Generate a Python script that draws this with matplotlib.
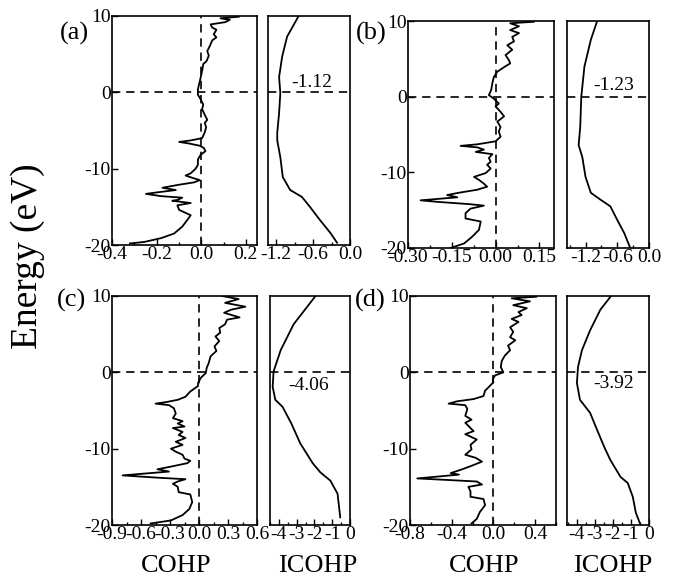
import numpy as np
import matplotlib.pyplot as plt
from matplotlib.ticker import MultipleLocator

plt.rcParams['font.family'] = ['Liberation Serif', 'DejaVu Serif']
plt.rcParams['axes.unicode_minus'] = False

# (a) COHP
e_a = [9.9, 9.7, 9.5, 9.2, 8.9, 8.5, 8.2, 7.6, 7.2, 6.8, 6.1, 5.4, 4.8, 4.1, 3.7, 2.8, 1.5, 0.4,
       -0.3, -0.9, -1.6, -2.2, -2.9, -3.6, -4.0, -4.6, -5.3, -6.0, -6.3, -6.5, -6.7, -7.0, -7.3,
       -7.7, -8.2, -8.8, -9.5, -10.0, -10.6, -10.9, -11.2, -11.5, -11.8, -12.1, -12.5, -12.8,
       -13.1, -13.3, -13.6, -13.8, -14.1, -14.2, -14.5, -14.8, -15.4, -16.1, -16.7, -17.6,
       -18.5, -19.1, -19.6, -19.8]
cohp_a = [0.168, 0.086, 0.128, 0.108, 0.042, 0.049, 0.068, 0.056, 0.068, 0.049, 0.039, 0.027,
          0.034, 0.024, 0.009, 0.004, -0.006, -0.015, -0.015, -0.003, 0.009, 0.004, 0.015,
          0.027, 0.016, 0.022, 0.015, 0.004, -0.047, -0.099, -0.055, -0.006, 0.012, 0.019,
          -0.003, -0.015, -0.015, -0.025, -0.047, -0.07, -0.04, -0.006, -0.033, -0.099, -0.174,
          -0.114, -0.196, -0.248, -0.18, -0.085, -0.107, -0.13, -0.047, -0.107, -0.099, -0.047,
          -0.062, -0.085, -0.122, -0.18, -0.255, -0.32]
# (a) ICOHP
e_ia = [9.9, 7.3, 4.7, 2.0, -0.1, -2.7, -5.3, -6.3, -8.5, -11.1, -12.8, -13.7, -15.0, -16.7,
        -18.4, -19.7]
icohp_a = [-0.84, -1.02, -1.1, -1.15, -1.13, -1.15, -1.18, -1.18, -1.13, -1.09, -0.97, -0.78,
           -0.65, -0.49, -0.32, -0.21]

# (b) COHP
e_b = [9.9, 9.7, 9.3, 8.8, 8.4, 7.9, 7.3, 6.8, 6.2, 5.5, 4.8, 4.4, 3.9, 3.3, 2.6, 1.8, 0.9, 0.2,
       -0.2, -0.9, -1.3, -2.0, -2.6, -3.3, -4.0, -4.6, -5.3, -5.9, -6.3, -6.5, -6.7, -7.0, -7.3,
       -7.6, -8.1, -8.6, -9.0, -9.5, -10.1, -10.6, -11.0, -11.5, -11.9, -12.3, -12.7, -13.0,
       -13.3, -13.7, -13.9, -14.2, -14.4, -14.8, -15.4, -16.1, -16.5, -17.6, -18.5, -19.4, -20.0]
cohp_b = [0.131, 0.05, 0.08, 0.05, 0.08, 0.057, 0.063, 0.04, 0.057, 0.034, 0.046, 0.05, 0.029,
          0.006, -0.006, -0.011, -0.015, -0.023, -0.008, 0.011, 0.0, 0.017, 0.029, 0.006, 0.017,
          0.011, 0.017, 0.0, -0.063, -0.12, -0.063, -0.04, -0.068, -0.011, -0.023, -0.017,
          -0.029, -0.017, -0.034, -0.074, -0.057, -0.04, -0.029, -0.063, -0.126, -0.166, -0.131,
          -0.257, -0.2, -0.091, -0.04, -0.086, -0.103, -0.103, -0.051, -0.057, -0.08, -0.108,
          -0.154]
# (b) ICOHP
e_ib = [10.0, 7.5, 4.0, 0.0, -4.0, -6.4, -8.0, -10.6, -12.7, -13.6, -14.5, -16.3, -18.0, -19.9]
icohp_b = [-0.98, -1.1, -1.22, -1.28, -1.3, -1.33, -1.26, -1.2, -1.1, -0.92, -0.73, -0.6,
           -0.47, -0.36]

# (c) COHP
e_c = [10.0, 9.6, 9.1, 8.6, 8.2, 7.8, 7.2, 6.9, 6.3, 5.8, 5.2, 4.7, 4.1, 3.4, 2.8, 2.1, 1.2, 0.6,
       -0.1, -0.7, -1.4, -1.8, -2.5, -3.2, -3.6, -3.9, -4.1, -4.3, -4.7, -5.4, -6.0, -6.4, -6.7,
       -7.1, -7.3, -7.8, -8.2, -8.6, -9.1, -9.5, -10.0, -10.4, -10.8, -11.3, -11.6, -11.9,
       -12.4, -12.7, -13.0, -13.5, -13.8, -14.0, -14.3, -14.6, -15.0, -15.7, -16.0, -17.0,
       -17.9, -18.7, -19.4, -19.8]
cohp_c = [0.24, 0.41, 0.27, 0.48, 0.33, 0.26, 0.42, 0.29, 0.27, 0.21, 0.22, 0.17, 0.21, 0.16,
          0.18, 0.12, 0.1, 0.08, 0.07, 0.02, -0.01, -0.01, -0.09, -0.14, -0.22, -0.34, -0.45,
          -0.31, -0.26, -0.24, -0.27, -0.17, -0.22, -0.15, -0.27, -0.17, -0.21, -0.14, -0.24,
          -0.17, -0.29, -0.24, -0.17, -0.15, -0.09, -0.12, -0.31, -0.43, -0.31, -0.79, -0.43,
          -0.14, -0.22, -0.27, -0.22, -0.21, -0.09, -0.07, -0.1, -0.17, -0.29, -0.5]
# (c) ICOHP
e_ic = [10.0, 6.3, 2.9, 0.1, -1.9, -3.6, -4.5, -6.7, -9.3, -11.9, -13.1, -14.2, -15.9, -19.0]
icohp_c = [-1.94, -3.17, -3.9, -4.3, -4.35, -4.2, -3.8, -3.3, -2.8, -2.1, -1.67, -1.1, -0.7,
           -0.55]

# (d) COHP
e_d = [9.9, 9.7, 9.3, 8.8, 8.4, 7.9, 7.5, 7.0, 6.6, 5.9, 5.3, 4.6, 4.2, 3.5, 2.9, 2.2, 1.5, 0.7,
       0.0, -0.4, -0.9, -1.3, -2.0, -2.4, -3.1, -3.5, -3.8, -4.1, -4.3, -4.8, -5.7, -6.2, -6.6,
       -7.3, -7.7, -8.1, -8.8, -9.5, -10.1, -10.8, -11.2, -11.7, -12.3, -12.8, -13.2, -13.4,
       -13.9, -14.1, -14.3, -14.7, -15.0, -15.6, -16.3, -16.6, -17.4, -18.3, -19.2, -19.8]
cohp_d = [0.41, 0.175, 0.35, 0.19, 0.32, 0.24, 0.27, 0.175, 0.24, 0.16, 0.19, 0.16, 0.21, 0.14,
          0.16, 0.11, 0.08, 0.07, 0.095, 0.016, -0.006, 0.0, -0.05, -0.08, -0.095, -0.19, -0.35,
          -0.43, -0.27, -0.25, -0.27, -0.21, -0.27, -0.22, -0.19, -0.27, -0.16, -0.22, -0.21,
          -0.27, -0.17, -0.11, -0.22, -0.32, -0.41, -0.33, -0.73, -0.44, -0.16, -0.11, -0.24,
          -0.22, -0.22, -0.095, -0.08, -0.13, -0.16, -0.21]
# (d) ICOHP
e_id = [9.9, 8.2, 5.5, 2.9, 0.7, -1.4, -3.6, -5.3, -7.6, -9.8, -11.5, -13.7, -14.5, -16.3,
        -18.4, -19.8]
icohp_d = [-2.14, -2.7, -3.27, -3.72, -3.94, -4.0, -3.83, -3.27, -2.87, -2.48, -2.14, -1.58,
           -1.18, -0.9, -0.73, -0.5]

panels = [
    ('(a)', e_a, cohp_a, e_ia, icohp_a, '-1.12'),
    ('(b)', e_b, cohp_b, e_ib, icohp_b, '-1.23'),
    ('(c)', e_c, cohp_c, e_ic, icohp_c, '-4.06'),
    ('(d)', e_d, cohp_d, e_id, icohp_d, '-3.92'),
]

W, H = 674, 580
fig = plt.figure(figsize=(W / 100, H / 100), dpi=100)

def box(x0, x1, y0, y1):
    return [x0 / W, 1 - y1 / H, (x1 - x0) / W, (y1 - y0) / H]

# pixel boxes of the axes
cohp_boxes = [box(112, 257, 16, 245), box(408, 554, 21, 248), box(112, 257, 296, 525), box(410, 556, 296, 525)]
icohp_boxes = [box(268, 350, 16, 245), box(567, 649, 21, 248), box(270, 350, 296, 525), box(567, 649, 296, 525)]
cohp_xlim = [(-0.4, 0.25), (-0.3, 0.2), (-0.9, 0.6), (-0.8, 0.6)]
cohp_major = [0.2, 0.15, 0.3, 0.4]
cohp_fmt = ['%.1f', '%.2f', '%.1f', '%.1f']
icohp_xlim = [(-1.33, 0.0), (-1.55, 0.0), (-4.5, 0.0), (-4.55, 0.0)]
icohp_major = [0.6, 0.6, 1, 1]
icohp_fmt = ['%.1f', '%.1f', '%d', '%d']
text_pos = [(-0.62, 1.3), (-0.67, 1.5), (-2.35, -1.7), (-1.95, -1.4)]
label_pos = [(74, 33), (371, 33), (72, 300), (370, 300)]

dash = dict(color='k', lw=1.2, ls=(0, (5, 3.5)))

for i, (lab, e, c, ei, ic, txt) in enumerate(panels):
    ax = fig.add_axes(cohp_boxes[i])
    ax.plot(c, e, color='k', lw=1.3)
    ax.axvline(0, **dash)
    ax.axhline(0, **dash)
    ax.set_xlim(cohp_xlim[i])
    ax.set_ylim(-20, 10)
    ax.xaxis.set_major_locator(MultipleLocator(cohp_major[i]))
    ax.xaxis.set_minor_locator(MultipleLocator(cohp_major[i] / 2))
    ax.xaxis.set_major_formatter(plt.FormatStrFormatter(cohp_fmt[i]))
    ax.yaxis.set_major_locator(MultipleLocator(10))
    ax.tick_params(which='both', direction='in', labelsize=14, pad=1)
    ax.tick_params(which='major', length=4, width=1)
    ax.tick_params(which='minor', length=2.5, width=1)
    for s in ax.spines.values():
        s.set_linewidth(1.2)

    ax2 = fig.add_axes(icohp_boxes[i])
    ax2.plot(ic, ei, color='k', lw=1.3)
    ax2.axhline(0, **dash)
    ax2.set_xlim(icohp_xlim[i])
    ax2.set_ylim(-20, 10)
    ax2.xaxis.set_major_locator(MultipleLocator(icohp_major[i]))
    ax2.xaxis.set_minor_locator(MultipleLocator(icohp_major[i] / 2))
    ax2.xaxis.set_major_formatter(plt.FormatStrFormatter(icohp_fmt[i]))
    ax2.set_yticks([])
    ax2.tick_params(which='both', direction='in', labelsize=14, pad=1)
    ax2.tick_params(which='major', length=4, width=1)
    ax2.tick_params(which='minor', length=2.5, width=1)
    for s in ax2.spines.values():
        s.set_linewidth(1.2)
    ax2.text(text_pos[i][0], text_pos[i][1], txt, fontsize=14, ha='center', va='center')

    fig.text(label_pos[i][0] / W, 1 - label_pos[i][1] / H, lab, fontsize=19, ha='center', va='center')

fig.text(28 / W, 1 - 256 / H, 'Energy (eV)', fontsize=27, rotation=90, ha='center', va='center')
for x in [176, 484]:
    fig.text(x / W, 1 - 566 / H, 'COHP', fontsize=19, ha='center', va='center')
for x in [318, 613]:
    fig.text(x / W, 1 - 566 / H, 'ICOHP', fontsize=19, ha='center', va='center')

fig.savefig('out.png', dpi=100)
